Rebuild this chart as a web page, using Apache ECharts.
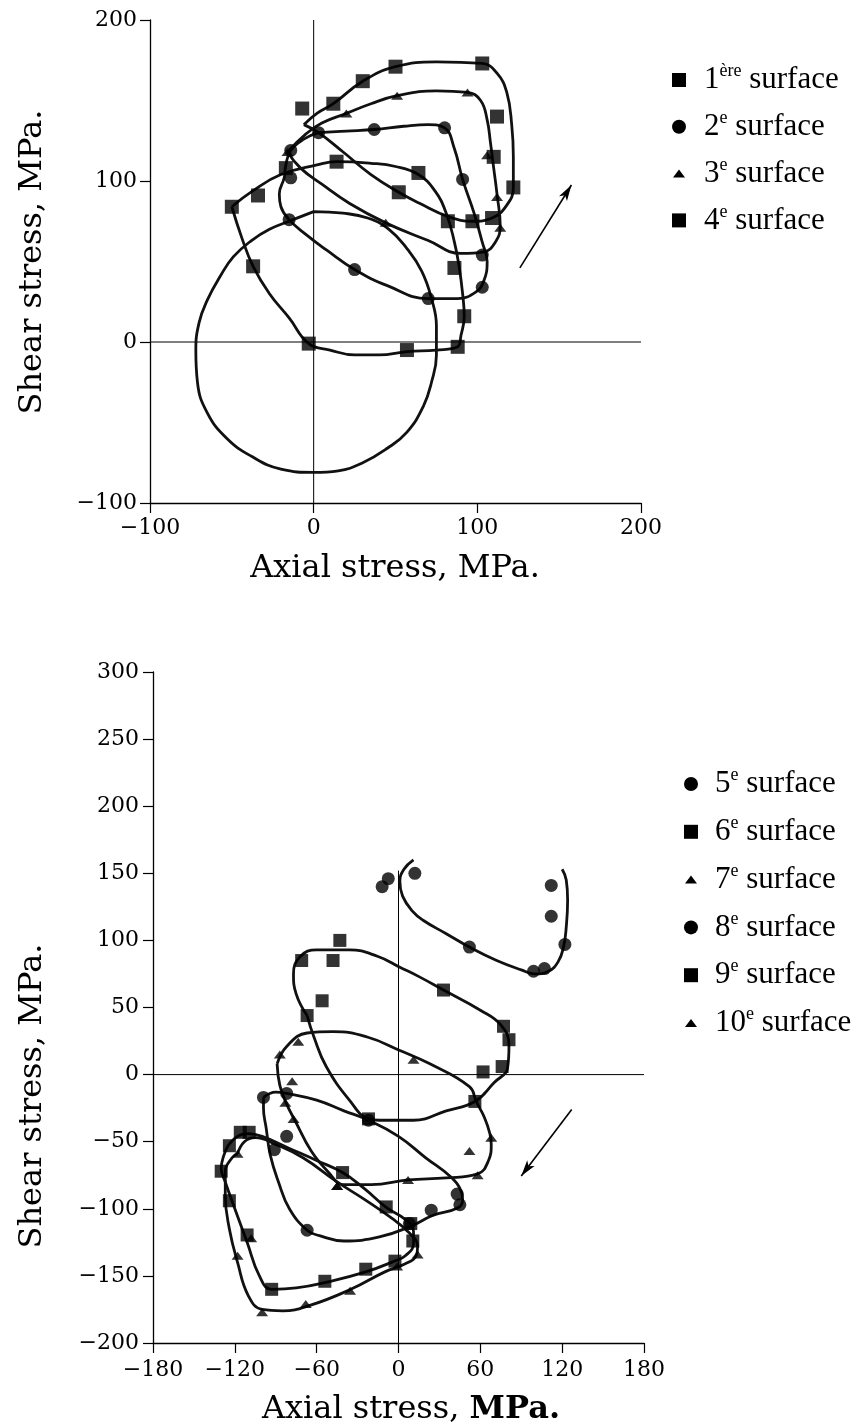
<!DOCTYPE html>
<html><head><meta charset="utf-8">
<script src="https://cdn.jsdelivr.net/npm/echarts/dist/echarts.min.js"></script>
<style>html,body{margin:0;padding:0;background:#fff}#c{width:861px;height:1425px}</style>
</head><body><div id="c"></div><script>
// ---------- TOP CHART DATA (Axial stress, Shear stress in MPa) ----------
const topInitialCurve = [[0,81],[18,80],[33,77],[46,70],[57,58],[66,44],[72,27],[75,10],[75,-8],[72,-25],[67,-40],[57,-56],[45,-66],[30,-75],[15,-80],[0,-81],[-20,-79],[-38,-71],[-53,-60],[-65,-44],[-71,-25],[-72,-5],[-70,12],[-65,26],[-57,41],[-49,53],[-38,63],[-27,70],[-15,75],[0,81]];
const surf1Curve = [[-50,84],[-37,94],[-20,104],[2,110],[14,112],[35,111],[50,109],[64,104],[74,94],[81,80],[86,62],[89,46],[91,30],[92,16],[90,4],[88,-3],[75,-5],[57,-6],[40,-8],[25,-8],[10,-5],[-3,-1],[-15,15],[-27,30],[-37,47],[-44,65],[-50,84]];
const surf1Points = [[-50,84],[-34,91],[-37,47],[-3,-1],[57,-5],[88,-3],[92,16],[86,46],[82,75],[64,105],[14,112],[-17,108]];
const surf2Curve = [[3,130],[20,131],[37,132],[55,134],[70,135],[80,133],[86,120],[91,101],[98,80],[103,62],[106,50],[104,38],[99,31],[88,27],[70,27],[45,35],[25,45],[8,57],[-5,67],[-15,76],[-20,84],[-21,92],[-18,102],[-17,110],[-14,119],[-6,126],[3,130]];
const surf2Points = [[-15,76],[25,45],[70,27],[103,34],[103,54],[91,101],[80,133],[37,132],[3,130],[-14,119],[-14,102]];
const surf3Curve = [[-16,118],[-5,129],[5,136],[20,142],[35,148],[51,153],[75,156],[94,155],[102,150],[106,138],[108,124],[110,108],[112,92],[114,72],[111,62],[104,56],[90,55],[70,63],[44,74],[22,86],[5,98],[-8,108],[-16,118]];
const surf3Points = [[20,142],[51,153],[94,155],[106,116],[112,90],[114,71],[44,74],[-16,118]];
const surf4Curve = [[-6,135],[2,142],[12,148],[30,162],[50,171],[75,174],[103,173],[112,167],[118,155],[121,135],[122,115],[122,96],[118,85],[109,77],[97,75],[82,78],[65,86],[52,93],[35,104],[18,118],[3,130],[-6,135]];
const surf4Points = [[-7,145],[12,148],[30,162],[50,171],[103,173],[112,140],[110,115],[122,96],[109,77],[97,75],[52,93]];
const topArrow = [[126,46],[157.5,97.5]];

// ---------- BOTTOM CHART DATA ----------
const surf5Curve = [[11,160],[4,153],[1,144],[3,133],[10,122],[18,115],[35,105],[52,95],[72,85],[90,78],[100,75],[110,77],[117,84],[121,95],[123,110],[124,130],[123,145],[120,153]];
const surf5Points = [[-12,140],[-7.5,146],[12,150],[52,95],[99,77],[107,79],[122,97],[112,141],[112,118]];
const surf6Curve = [[-67,44],[-75,60],[-77,75],[-72,88],[-60,93],[-36,93],[-15,88],[1,80],[15,73],[33,63],[60,48],[75,37],[81,22],[80,5],[70,-6],[56,-20],[35,-27],[11,-34],[-14,-34],[-22,-33],[-36,-19],[-53,6],[-62,28],[-67,44]];
const surf6Points = [[-43,100],[-71,85],[-48,85],[-56,55],[-67,44],[-22,-33],[33,63],[77,36],[81,26],[76,6],[62,2],[56,-20]];
const surf7Curve = [[-89,8],[-82,21],[-67,31],[-48,32],[-23,28],[1,18],[23,8],[52,-9],[57,-20],[63,-32],[67,-44],[68,-52],[66,-64],[58,-74],[35,-77],[7,-78.5],[-20,-82],[-40,-82],[-52,-72],[-64,-57],[-76,-34],[-82,-22],[-87,-8],[-89,8]];
const surf7Points = [[-87,15],[-73.5,24.5],[11,11],[-78,-5],[-77,-33],[-83,-21],[68,-47],[52,-57],[58,-75],[7,-78.5],[-45,-83]];
const surf8Curve = [[-99,-17],[-90,-13],[-82,-14],[-60,-19],[-40,-27],[-22,-34],[0,-46],[20,-62],[38,-76],[46,-87],[47,-93],[44,-99],[25,-105],[9,-113],[-14,-121],[-40,-124],[-58,-120],[-67,-116],[-80,-100],[-88,-80],[-94,-60],[-97,-40],[-99,-25],[-99,-17]];
const surf8Points = [[-99,-17],[-82,-14],[-82,-46],[-91,-56],[-67,-116],[-22,-34],[43,-89],[45,-97],[24,-101],[8,-111]];
const surf9Curve = [[-125,-53],[-118,-46],[-110,-44],[-100,-46],[-80,-55],[-60,-64],[-41,-73],[-25,-85],[-9,-99],[5,-108],[11,-117],[11,-126],[5,-135],[-3,-139],[-24,-147],[-54,-155],[-75,-159],[-93,-160],[-102,-150],[-111,-125],[-120,-100],[-127,-80],[-130,-70],[-128,-60],[-125,-53]];
const surf9Points = [[-124,-53],[-116,-43],[-109.5,-43],[-130,-72],[-124,-94],[-111,-119.5],[-93,-160],[-54,-154],[-24,-145],[-2.6,-139],[10.5,-124],[9,-111],[-9,-98.6],[-41,-73]];
const surf10Curve = [[-118,-59],[-113,-50],[-105,-47],[-90,-52],[-70,-62],[-45,-80],[-25,-93],[-5,-107],[8,-118],[14,-128],[13,-135],[5,-141],[-10,-147],[-35,-160],[-65,-172],[-85,-176],[-100,-175],[-110,-165],[-118,-140],[-124,-115],[-127,-90],[-127,-72],[-122,-62],[-118,-59]];
const surf10Points = [[-118,-59],[-108,-122],[-118,-135],[-100,-177],[-68,-171],[-35.5,-161],[-1,-143],[14,-134],[-45,-83]];
const bottomArrow = [[127,-26],[90,-75.5]];

// legend labels
const topLegendNum = ['1','2','3','4'];
const topLegendSup = ['ère','e','e','e'];
const topLegendSym = ['rect','circle','triangle','rect'];
const botLegendNum = ['5','6','7','8','9','10'];
const botLegendSup = ['e','e','e','e','e','e'];
const botLegendSym = ['circle','rect','triangle','circle','rect','triangle'];

const SERIF = 'DejaVu Serif';
const TIMES = 'Liberation Serif';
const fmt = v => v < 0 ? '\u2212' + (-v) : String(v);

function axis(gi, min, max, interval, margin) {
  return {
    gridIndex: gi, type: 'value', min, max, interval,
    axisLine: {onZero: false, lineStyle: {color: '#000', width: 1.3}},
    axisTick: {inside: false, length: 10, lineStyle: {color: '#000', width: 1.2}},
    splitLine: {show: false},
    axisLabel: {fontFamily: SERIF, fontSize: 22, color: '#000', margin, formatter: fmt}
  };
}
function curve(data, gi) {
  return {type: 'line', xAxisIndex: gi, yAxisIndex: gi, data, smooth: 0.45, symbol: 'none',
    lineStyle: {color: '#111', width: 2.8}, silent: true, z: 3, animation: false};
}
function pts(name, data, gi, symbol) {
  let size = symbol === 'triangle' ? [12, 8] : (symbol === 'rect' ? 14 : 13);
  if (gi === 1 && symbol === 'rect') size = 13;
  return {type: 'scatter', name, xAxisIndex: gi, yAxisIndex: gi, data, symbol, symbolSize: size,
    itemStyle: {color: '#000'}, z: 5, animation: false};
}
function ref(data, gi, arrow) {
  const s = {type: 'line', xAxisIndex: gi, yAxisIndex: gi, data, symbol: 'none',
    lineStyle: {color: '#000', width: 1}, silent: true, z: 2, animation: false};
  if (arrow) {
    s.markLine = {silent: true, symbol: ['none', 'arrow'], symbolSize: [7, 16], animation: false,
      lineStyle: {color: '#000', width: 1.6, type: 'solid'}, label: {show: false},
      data: [[{coord: arrow[0]}, {coord: arrow[1]}]]};
  }
  return s;
}

const series = [
  ref([[-100,0],[200,0]], 0, topArrow), ref([[0,-100],[0,200]], 0),
  ref([[-180,0],[180,0]], 1, bottomArrow), ref([[0,-200],[0,152]], 1),
  curve(topInitialCurve, 0),
  curve(surf1Curve, 0), curve(surf2Curve, 0), curve(surf3Curve, 0), curve(surf4Curve, 0),
  pts('1ère surface', surf1Points, 0, 'rect'), pts('2e surface', surf2Points, 0, 'circle'),
  pts('3e surface', surf3Points, 0, 'triangle'), pts('4e surface', surf4Points, 0, 'rect'),
  curve(surf5Curve, 1), curve(surf6Curve, 1), curve(surf7Curve, 1), curve(surf8Curve, 1),
  curve(surf9Curve, 1), curve(surf10Curve, 1),
  pts('5e surface', surf5Points, 1, 'circle'), pts('6e surface', surf6Points, 1, 'rect'),
  pts('7e surface', surf7Points, 1, 'triangle'), pts('8e surface', surf8Points, 1, 'circle'),
  pts('9e surface', surf9Points, 1, 'rect'), pts('10e surface', surf10Points, 1, 'triangle')
];

// legend drawn as graphic (marker + rich text)
const graphic = [];
const legendRich = {
  n: {fontFamily: TIMES, fontSize: 31, lineHeight: 35, color: '#000'},
  s: {fontFamily: TIMES, fontSize: 18, lineHeight: 20, verticalAlign: 'top', color: '#000'}
};
function marker(sym, x, y) {
  if (sym === 'rect') return {type: 'rect', x, y, shape: {x: -7, y: -7, width: 14, height: 14}, style: {fill: '#000'}};
  if (sym === 'circle') return {type: 'circle', x, y, shape: {cx: 0, cy: 0, r: 7}, style: {fill: '#000'}};
  return {type: 'polygon', x, y, shape: {points: [[-6, 4], [0, -4], [6, 4]]}, style: {fill: '#000'}};
}
function legendBlock(nums, sups, syms, mx, tx, y0, dy) {
  nums.forEach((n, i) => {
    const y = y0 + i * dy;
    graphic.push(marker(syms[i], mx, y));
    graphic.push({type: 'text', x: tx, y, style: {text: '{n|' + n + '}{s|' + sups[i] + '}{n| surface}',
      rich: legendRich, verticalAlign: 'middle', align: 'left'}});
  });
}
legendBlock(topLegendNum, topLegendSup, topLegendSym, 679, 704, 80, 46.8);
legendBlock(botLegendNum, botLegendSup, botLegendSym, 691, 715, 784, 47.8);

const titleStyle = {fontFamily: SERIF, fontSize: 32, fill: '#000', align: 'center', verticalAlign: 'middle'};
graphic.push({type: 'text', x: 395, y: 569, style: Object.assign({text: 'Axial stress, MPa.'}, titleStyle)});
graphic.push({type: 'text', x: 33, y: 262, rotation: Math.PI / 2, style: Object.assign({text: 'Shear stress, MPa.'}, titleStyle)});
graphic.push({type: 'text', x: 411, y: 1410, style: {text: '{a|Axial stress, }{b|MPa.}', align: 'center', verticalAlign: 'middle',
  rich: {a: {fontFamily: SERIF, fontSize: 32, color: '#000'}, b: {fontFamily: SERIF, fontSize: 32, fontWeight: 'bold', color: '#000'}}}});
graphic.push({type: 'text', x: 33, y: 1096, rotation: Math.PI / 2, style: Object.assign({text: 'Shear stress, MPa.'}, titleStyle)});

const chart = echarts.init(document.getElementById('c'), null, {renderer: 'canvas'});
chart.setOption({
  backgroundColor: '#fff',
  animation: false,
  grid: [{left: 150, top: 20, width: 491, height: 483}, {left: 153, top: 672, width: 491, height: 671}],
  xAxis: [axis(0, -100, 200, 100, 14), axis(1, -180, 180, 60, 16)],
  yAxis: [axis(0, -100, 200, 100, 13), axis(1, -200, 300, 50, 14)],
  series,
  graphic
});
</script></body></html>
